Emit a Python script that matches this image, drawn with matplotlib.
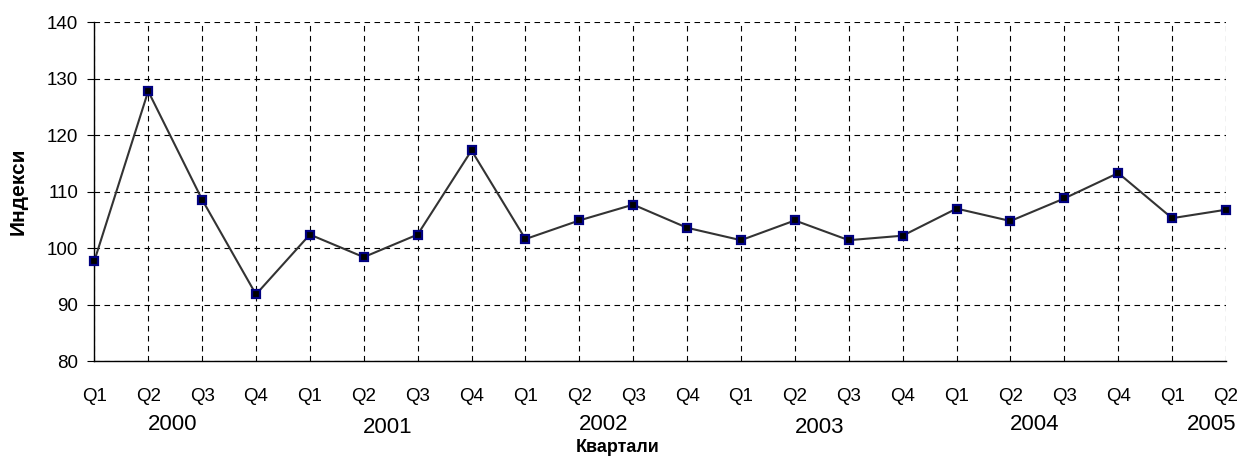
import matplotlib
matplotlib.use("Agg")
import matplotlib.pyplot as plt

quarters = ["Q1", "Q2", "Q3", "Q4", "Q1", "Q2", "Q3", "Q4", "Q1", "Q2", "Q3",
            "Q4", "Q1", "Q2", "Q3", "Q4", "Q1", "Q2", "Q3", "Q4", "Q1", "Q2"]
years = ["2000", "2001", "2002", "2003", "2004", "2005"]
values = [97.7, 127.8, 108.6, 91.8, 102.4, 98.4, 102.4, 117.3, 101.6, 104.9, 107.7,
          103.6, 101.4, 104.9, 101.4, 102.2, 107.0, 104.8, 108.8, 113.3, 105.3, 106.8]

plt.rcParams['font.family'] = ['Liberation Sans', 'DejaVu Sans']

W, H = 1249, 462
fig = plt.figure(figsize=(W / 100, H / 100), dpi=100)
ax = fig.add_axes([94.3 / W, 1 - 361 / H, (1226 - 94.3) / W, (361 - 22.3) / H])

x = list(range(len(values)))
ax.plot(x, values, color="#333333", lw=1.5, marker="s", ms=5.8,
        mfc="black", mec="#000080", mew=1.6, clip_on=False, zorder=3)

n = len(values)
ax.set_xlim(0, n - 1)
ax.set_ylim(80, 140)
ax.set_yticks(range(80, 141, 10))
ax.set_xticks(x)
ax.set_xticklabels(quarters, fontsize=13.5)
ax.tick_params(axis='y', labelsize=13.5, length=5, width=0.8, direction='out', pad=6.5)
ax.tick_params(axis='x', length=0, pad=19.5)

ax.grid(True, color="black", linestyle=(0, (5, 4)), lw=0.8)
for s in ["top", "right"]:
    ax.spines[s].set_visible(False)
ax.spines["left"].set_linewidth(1.0)
ax.spines["bottom"].set_linewidth(1.0)

# year labels
for i, yr in enumerate(years):
    pos = i * 4 + 1.45
    ha = "center"
    if pos > n - 1:
        pos = n - 1 + 0.2
        ha = "right"
    off = -48 if i in (1, 3) else -46
    ax.annotate(yr, xy=(pos, 0), xycoords=("data", "axes fraction"),
                xytext=(0, off), textcoords="offset points",
                ha=ha, va="center", fontsize=16, annotation_clip=False)

fig.text(618 / W, 1 - 447 / H, "Квартали", fontsize=13, fontweight="bold",
         ha="center", va="center")
fig.text(18 / W, 1 - 191 / H, "Индекси", fontsize=15, fontweight="bold",
         ha="center", va="center", rotation=90)

fig.savefig("out.png", dpi=100)
